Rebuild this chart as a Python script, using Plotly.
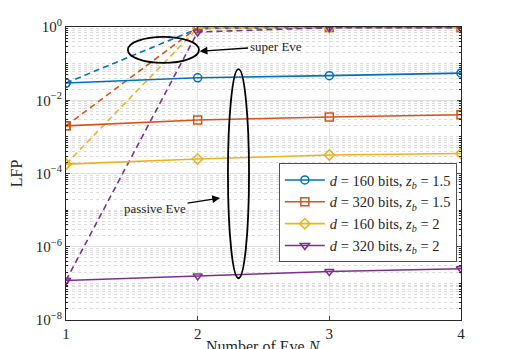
import numpy as np
import plotly.graph_objects as go

# ---- data ----
n_eve = [1, 2, 3, 4]

labels = ['<i>d</i> = 160 bits, <i>z<sub>b</sub></i> = 1.5',
          '<i>d</i> = 320 bits, <i>z<sub>b</sub></i> = 1.5',
          '<i>d</i> = 160 bits, <i>z<sub>b</sub></i> = 2',
          '<i>d</i> = 320 bits, <i>z<sub>b</sub></i> = 2']

# passive Eve (solid)
lfp_d160_z15 = [0.0295, 0.041, 0.047, 0.055]
lfp_d320_z15 = [0.0020, 0.0029, 0.0035, 0.0040]
lfp_d160_z2 = [1.8e-4, 2.5e-4, 3.2e-4, 3.5e-4]
lfp_d320_z2 = [1.2e-7, 1.6e-7, 2.1e-7, 2.5e-7]

# super Eve (dashed)
sup_d160_z15 = [0.0295, 0.90, 0.97, 0.97]
sup_d320_z15 = [0.0020, 0.97, 0.97, 0.97]
sup_d160_z2 = [1.8e-4, 0.93, 0.97, 0.97]
sup_d320_z2 = [1.2e-7, 0.73, 0.96, 0.96]

ytick_vals = [1e-8, 1e-6, 1e-4, 1e-2, 1e0]
ytick_text = ['10<sup>\u22128</sup>', '10<sup>\u22126</sup>', '10<sup>\u22124</sup>',
              '10<sup>\u22122</sup>', '10<sup>0</sup>']

colors = ['#0072BD', '#D95319', '#EDB120', '#7E2F8E']
symbols = ['circle-open', 'square-open', 'diamond-open', 'triangle-down-open']

passive = [lfp_d160_z15, lfp_d320_z15, lfp_d160_z2, lfp_d320_z2]
superv = [sup_d160_z15, sup_d320_z15, sup_d160_z2, sup_d320_z2]

fig = go.Figure()

# dashed super Eve curves (no legend)
for i in range(4):
    fig.add_trace(go.Scatter(
        x=n_eve, y=superv[i], mode='lines+markers',
        line=dict(color=colors[i], width=1.6, dash='6px,4px'),
        marker=dict(symbol=symbols[i], size=8, color=colors[i],
                    line=dict(width=1.5, color=colors[i])),
        showlegend=False, hoverinfo='skip'))

# solid passive Eve curves
for i in range(4):
    fig.add_trace(go.Scatter(
        x=n_eve, y=passive[i], mode='lines+markers', name=labels[i],
        line=dict(color=colors[i], width=1.6),
        marker=dict(symbol=symbols[i], size=8, color=colors[i],
                    line=dict(width=1.5, color=colors[i]))))

minor_vals = [k * 10.0**e for e in range(-8, 0) for k in range(1, 10)]

font_name = 'Liberation Serif'

# page body has an 8px margin, so the figure is a bit smaller than the window
fig.update_layout(
    width=501, height=341,
    margin=dict(l=58, r=48, t=19, b=29),
    plot_bgcolor='white', paper_bgcolor='white',
    font=dict(family=font_name, size=15, color='#262626'),
    legend=dict(x=0.99, y=0.535, xanchor='right', yanchor='top',
                bgcolor='white', bordercolor='#262626', borderwidth=0.8,
                font=dict(size=14.5), tracegroupgap=0, itemwidth=40),
    xaxis=dict(range=[1, 4], tickvals=n_eve, ticks='inside', ticklen=4,
               showline=True, linecolor='#262626', linewidth=1, mirror='ticks',
               showgrid=True, gridcolor='#e6e6e6', zeroline=False,
               tickfont=dict(size=15),
               automargin=False),
    yaxis=dict(type='log', range=[-8, 0], tickvals=ytick_vals, ticktext=ytick_text,
               ticks='inside', ticklen=4,
               showline=True, linecolor='#262626', linewidth=1, mirror='ticks',
               showgrid=True, gridcolor='#e0e0e0', zeroline=False,
               tickfont=dict(size=15),
               minor=dict(tickvals=minor_vals, showgrid=True, gridcolor='#dcdcdc',
                          griddash='dot', ticks='inside', ticklen=2,
                          tickcolor='#262626'),
               title=dict(text='LFP', standoff=10, font=dict(size=16)),
               automargin=False),
)

# x title as an annotation so it can sit below the labels (cut by the edge)
fig.add_annotation(x=0.5, y=-0.055, xref='paper', yref='paper',
                   text='Number of Eve <i>N</i>', showarrow=False,
                   xanchor='center', yanchor='top', font=dict(size=16))

# ellipses
fig.add_shape(type='circle', xref='x', yref='y',
              x0=1.47, x1=2.01, y0=10**-0.98, y1=10**-0.27,
              line=dict(color='black', width=1.8))
fig.add_shape(type='circle', xref='x', yref='y',
              x0=2.23, x1=2.39, y0=10**-6.86, y1=10**-1.15,
              line=dict(color='black', width=1.8))

# annotations on a log axis take log10 positions
fig.add_annotation(x=2.015, y=-0.66, xref='x', yref='y', text='super Eve',
                   showarrow=True, ax=76, ay=-5, arrowhead=2, arrowsize=1.2,
                   arrowwidth=1.3, arrowcolor='black',
                   font=dict(size=13, color='#262626'))
fig.add_annotation(x=2.17, y=-4.67, xref='x', yref='y', text='passive Eve',
                   showarrow=True, ax=-65, ay=10, arrowhead=2, arrowsize=1.2,
                   arrowwidth=1.3, arrowcolor='black',
                   font=dict(size=13, color='#262626'))

fig.write_html('out.html')
